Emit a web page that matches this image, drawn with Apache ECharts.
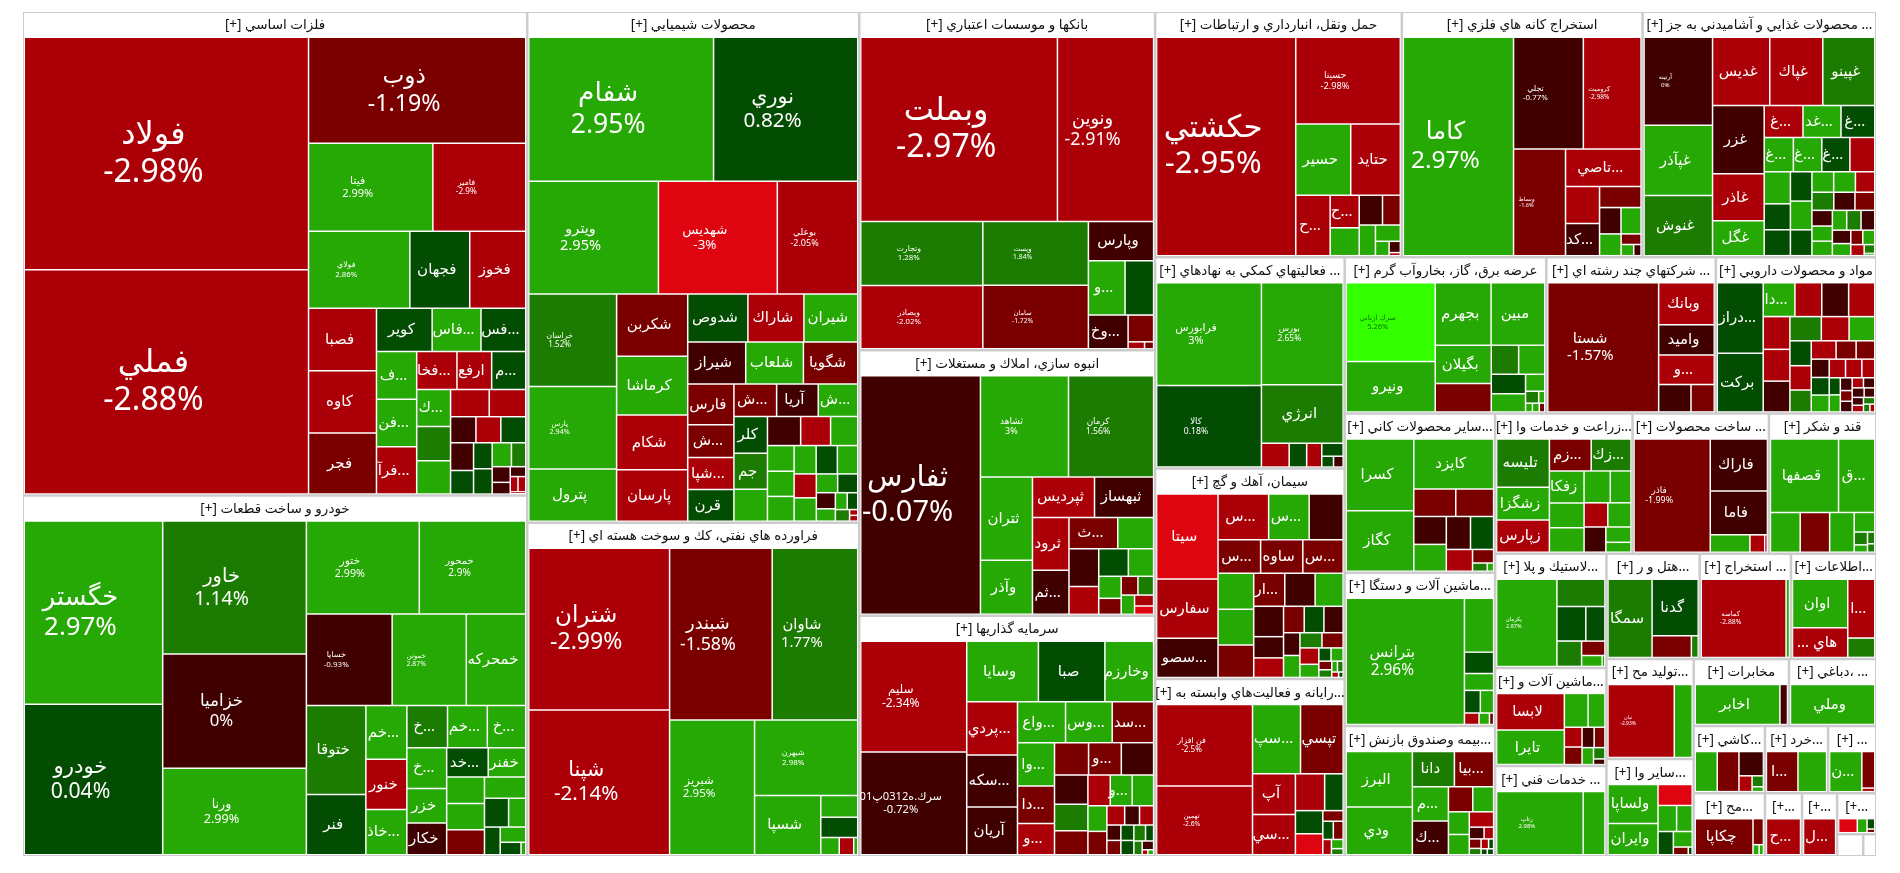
<!DOCTYPE html>
<html><head><meta charset="utf-8">
<style>html,body{margin:0;padding:0;background:#fff}#c{width:1900px;height:873px}</style>
<script src="https://cdn.jsdelivr.net/npm/echarts@6/dist/echarts.min.js"></script>
</head><body><div id="c"></div>
<script>
const sectorNames=['فلزات اساسي [+]','خودرو و ساخت قطعات [+]','محصولات شيميايي [+]','فراورده هاي نفتي، كك و سوخت هسته اي [+]','بانكها و موسسات اعتباري [+]','انبوه سازي، املاك و مستغلات [+]','سرمايه گذاريها [+]','حمل ونقل، انبارداري و ارتباطات [+]','استخراج كانه هاي فلزي [+]','... محصولات غذايي و آشاميدني به جز [+]','... فعاليتهاي كمكي به نهادهاي [+]','سيمان، آهك و گچ [+]','...رايانه و فعاليت‌هاي وابسته به [+]','عرضه برق، گاز، بخاروآب گرم [+]','... شركتهاي چند رشته اي [+]','مواد و محصولات دارويي [+]','...ساير محصولات كاني [+]','...ماشين آلات و دستگا [+]','...بيمه وصندوق بازنش [+]','...زراعت و خدمات وا [+]','... ساخت محصولات [+]','قند و شكر [+]','...لاستيك و پلا [+]','...ماشين آلات و [+]','... خدمات فني [+]','...هتل و ر [+]','... استخراج [+]','...اطلاعات [+]','...توليد مح [+]','...ساير وا [+]','مخابرات [+]','... ،دباغي [+]','...كاشي [+]','...مح [+]','...خرد [+]','... [+]','...+]','...+]','...+]','',''];
const sectorSizes=[242949,181080,168810,110223,99710,78175,70800,60270,58800,57085,39879,39690,33453,31356,26364,24960,23850,22950,19500,19180,19040,14980,12654,10878,9990,9765,9555,8925,8700,8439,6365,5829,4757,4473,4221,3216,2331,2205,1599,572,286];
const namesWithPercent=['فولاد','فملي','ذوب','فيتا','فامير','فولاي','خگستر','خودرو','خاور','خزاميا','ورنا','ختور','خمحور','خسايا','خموتن','شفام','نوري','ويترو','شهديس','بوعلي','خراسان','پارس','شتران','شپنا','شبندر','شاوان','شبريز','شبهرن','وبملت','ونوين','وتجارت','وبصادر','وپست','سامان','ثفارس','ثشاهد','كرمان','سليم','سرك.ه0312پ01','حكشتي','حسينا','كاما','تجلي','كروميت','وبساط','آرتينه','فرابورس','كالا','بورس','فن افزار','تهمين','سرك ازناني','شستا','بترانس','فاذر','پكرمان','رتاپ','كماسه','نيان'];

const n1=['فولاد','فملي','ذوب','فيتا','فامير','فولاي','فجهان','فخوز','فصبا','كاوه','فجر','كوير','فاس...','فس...','ف...','فن...','فرآ...','فخا...','ارفع','م...','ك...'];
const v1=[5600,5400,1952,925,691,660,390,365,360,358,352,204,179,164,163,162,161,130,112,110,106,98,96,89,84,56,55,55,54,46,41,40,39,29,24,18,13,10,10,3];
const c1=[-2.98,-2.88,-1.19,2.99,-2.9,2.86,.5,-2.5,-2.7,-2.8,-1.5,.6,2.9,.5,2.9,2.9,-2.5,-2.5,-2.5,.5,2.9,1.5,2.9,-2.5,-2.5,-.5,.5,-2.5,-.5,.5,.5,.5,2.9,1.5,-.5,-.5,-.5,-2.5,-2.5,-2.5];
const n2=['خگستر','خودرو','خاور','خزاميا','ورنا','ختور','خمحور','خسايا','خموتن','خمحركه','ختوقا','فنر','خم...','خنور','خاذ...','خ...','خم...','خ...','خ...','خزر','خكار','خد...','خفنر'];
const v2=[2150,1766,1619,1392,1053,889,838,665,575,461,449,304,187,175,157,146,143,138,137,117,107,103,93,85,84,80,74,59,42,37,33,22,5];
const c2=[2.97,.04,1.14,0,2.99,2.99,2.9,-.93,2.87,2.9,1.5,.5,2.9,-2.9,2.9,1.5,2.9,2.9,2.9,2.9,-.5,.5,2.9,2.9,2.9,-1.5,2.9,.5,2.9,.5,2.9,.5,2.9];
const n3=['شفام','نوري','ويترو','شهديس','بوعلي','خراسان','پارس','پترول','شكربن','كرماشا','شكام','پارسان','شدوص','شاراك','شيران','شيراز','شلعاب','شگويا','فارس','ش...','شپا...','قرن','ش...','آريا','ش...','كلر','جم'];
const v3=[2260,1763,1240,1137,769,690,615,388,375,355,330,310,245,228,219,206,205,193,160,128,126,124,118,115,109,105,102,91,82,74,67,58,57,56,53,51,49,45,44,34,32,26,20,17,15,14,4,4];
const c3=[2.95,.82,2.95,-3,-2.05,1.52,2.94,2.9,-1.5,2.9,-2.5,-2.5,.5,-2.5,2.9,-.5,2.9,-1.5,-1.5,-1.5,-2.5,.5,-1.5,-.5,2.9,.5,1.5,2.9,-.5,-2.5,2.9,2.9,2.9,2.9,2.9,.5,2.9,-2.5,2.9,2.9,.5,-.5,2.9,2.9,.5,1.5,-2.5,-2.5];
const n4=['شتران','شپنا','شبندر','شاوان','شبريز','شبهرن','شسپا'];
const v4=[1644,1469,1270,1059,826,562,283,58,54,23,18,5];
const c4=[-2.99,-2.14,-1.58,1.77,2.95,2.98,2.9,2.9,.5,2.9,-2.5,2.9];
const n5=['وبملت','ونوين','وتجارت','وبصادر','وپست','سامان','وپارس','و...','','وخ...'];
const v5=[3133,1532,675,670,582,581,222,172,134,116,59,10,5.5];
const c5=[-2.97,-2.91,1.28,-2.02,1.84,-1.72,-.5,2.9,.5,-.5,-1.5,-2.5,-1.5];
const n6=['ثفارس','ثشاهد','كرمان','ثتران','وآذر','ثپرديس','ثبهساز','ثرود','ثم...','ث...','','','و...','ثا...'];
const v6=[27956,8722,8428,4250,2750,2457,2340,1890,1575,1496,1100,1100,810,800,682,484,352,308,288,252,204,156];
const c6=[-.07,3,1.56,2.9,2.9,-2.5,-.5,-2.5,-.5,-1.5,-.5,2.9,-2.5,.5,2.9,2.9,-1.5,-1.5,1.5,2.9,-2.5,-3];
const n7=['سليم','سرك.ه0312پ01','وسايا','صبا','وخارزم','پردي...','سكه...','آريان','واع...','وس...','سد...','وا...','دا...','و...','','و...','','','','','','و...'];
const v7=[819,761,303,281,206,188,185,169,137,133,118,112,97,81,77,74,73,68,62,56,48,47,46,34,31,24,20,19,15,14,14,13,13,9,8,7,2,2];
const c7=[-2.34,-.72,2.9,.5,2.9,-2.5,-.5,-.7,2.9,2.9,-1.5,2.9,-1.5,-2.5,-1.5,-1.5,-.5,-.5,1.5,-1.5,-2.5,2.9,2.9,2.9,-1.5,-2.5,-.5,-2.5,-.5,.5,-1.5,1.5,.5,.5,1.5,-.5,2.9,-2.5];
const n8=['حكشتي','حسينا','حسير','حتايد','ح...','ح...','ح...'];
const v8=[2627,785,338,305,180,82,70,60,46,43,35,17,11,3];
const c8=[-2.95,-2.98,2.9,-2.5,-2.5,-2.5,2.9,-.5,-1.5,2.9,2.9,2.9,-.5,-2.5];
const n9=['كاما','تجلي','كروميت','وبساط','تاصي...','','كد...'];
const v9=[2051,665,550,472,240,108,93,75,48,45,40,18,12,7];
const c9=[2.97,-.77,-2.98,-1.6,-2.5,-2.5,-.5,-1.5,-.5,2.9,2.9,-1.5,2.9,-.5];
const n10=['آرتينه','غپآذر','غنوش','غديس','غپاك','غپينو','غزر','غاذر','غگل','غ...','غد...','غ...','غ...','غ...','غ...'];
const v10=[488,388,334,316,293,287,285,196,146,100,98,87,81,79,78,69,68,55,55,51,50,45,36,36,32,32,31,29,26,25,24,23,23,22,20,18,14,14,12,7.5,2];
const c10=[0,2.9,1.5,-2.5,-2.5,1.5,-.5,-2.5,2.9,-2.5,2.9,.5,2.9,2.9,.5,-2.5,2.9,.5,.5,.5,2.9,.5,2.9,2.9,1.5,-2.5,-.5,-1.5,-.5,2.9,2.9,1.5,2.9,-.5,-.5,2.9,2.9,-1.5,-2.5,1.5,2.9];
const n11=['فرابورس','كالا','بورس','انرژي'];
const v11=[930,737,720,412,57,36,31,24,11,9];
const c11=[3,.18,2.65,1.5,-2.5,.5,-2.5,.5,.5,-.5];
const n12=['سيتا','سفارس','سصو...','س...','س...','','س...','ساوه','س...','','','','ار...'];
const v12=[420,294,194,186,149,125,115,114,109,104,103,93,83,81,75,73,51,47,44,42,41,30,29,27,26,25,20,13,13,9,8,5,5,3,2];
const c12=[-3,-2.5,-.5,-2.5,2.9,-.5,-1.5,-1.5,-1.5,2.9,2.9,-1.5,-1.5,-.5,2.9,-.5,-.5,-2.5,-1.5,.5,-.5,-.5,2.9,1.5,-1.5,-2.5,2.9,2.9,.5,-1.5,1.5,1.5,2.9,-2.5,.5];
const n13=['فن افزار','تهمين','سپ...','تپسي','آپ','سي...'];
const v13=[654,550,278,247,146,144,90,57,53,48,18,16,15,11,9,6];
const c13=[-2.5,-2.6,2.9,-1.5,-2.5,-2.5,-2.5,.5,.5,-3,-1.5,.5,-1.5,-2.5,2.9,1.5];
const n14=['سرك ازناني','ونيرو','بجهرم','مبين','بگيلان'];
const v14=[582,372,289,278,178,132,66,63,55,52,27,13,6,5,5,4];
const c14=[5.26,2.9,2.9,2.9,2.9,-1.5,1.5,2.9,.5,2.9,2.9,1.5,2.9,2.9,2.9,-1.5];
const n15=['شستا','وبانك','واميد','و...','و...'];
const v15=[1212,198,142,139,75,54];
const c15=[-1.57,-2.5,-.5,-2.5,-.5,-1.5];
const n16=['دراز...','بركت','دا...'];
const v16=[256,213,85,72,72,70,69,67,65,60,53,49,42,41,37,36,29,27,26,25,24,24,24,19,15,15,12,10,10,9,9,9,8,7,6,6,4,3];
const c16=[.5,.5,2.9,-.5,-2.5,-2.5,-2.5,-2.5,-.5,1.5,-2.5,2.9,.5,-2.5,1.5,-2.5,-1.5,-1.5,-.5,.5,-2.5,-2.5,2.9,-2.5,2.9,.5,-.5,-.5,-1.5,-.5,-.5,-2.5,-.5,-.5,1.5,-2.5,1.5,-2.5];
const n17=['كسرا','كگاز','كايزد'];
const v17=[4480,3776,3680,1066,962,837,806,736,704,528,264,112,48];
const c17=[2.9,2.9,2.9,-1.5,-1.5,-.5,2.9,-.7,.5,-2.5,-1.5,1.5,2.9];
const n18=['بترانس'];
const v18=[1244,131,52,41,30,25,14,10,4];
const c18=[2.96,2.9,.5,2.9,.5,2.9,-2.5,2.9,-1.5];
const n19=['البرز','ودي','دانا','بيا...','م...','ك...'];
const v19=[295,254,119,111,99,98,49,42,38,34,30,14,9,9,6,6,4,3,3];
const c19=[2.9,2.9,1.5,-1.5,2.9,-.5,-1.5,2.9,2.9,2.9,-2.5,-.5,-1.5,-2.5,-2.5,1.5,.5,.5,.5];
const n20=['تليسه','زشگزا','زپارس','زم...','زك...','زفكا','ز...'];
const v20=[204,139,136,107,102,89,69,68,67,53,46,45,44,31,20];
const c20=[1.5,2.9,-2.5,-1.5,1.5,2.9,2.9,2.9,2.9,2.9,-2.5,2.9,-.5,2.9,2.9];
const n21=['فاذر','فاراك','فاما'];
const v21=[740,255,215,59,22,4];
const c21=[-1.99,-.5,-.5,2.9,-2.5,-2.5];
const n22=['قصفها','ق...'];
const v22=[410,218,97,96,80,33,14,8,7,5];
const c22=[2.9,2.9,2.9,-1.5,2.9,2.9,1.5,2.9,1.5,1.5];
const n23=['پكرمان'];
const v23=[421,105,80,53,50,27,18,2.4];
const c23=[2.87,1.5,.5,.5,1.5,-1.5,2.9,2.9];
const n24=['لابسا','تايرا'];
const v24=[191,181,62,44,27,24,19,17,15,10,5];
const c24=[-2.5,2.9,2.9,2.9,-2.5,-1.5,-.5,-1.5,2.9,1.5,-.5];
const n25=['رتاپ'];
const v25=[450,113];
const c25=[2.98,2.9];
const n26=['سمگا','گدنا'];
const v26=[280,212,69,12];
const c26=[1.5,.5,-1.5,1.5];
const n27=['كماسه'];
const v27=[549,22];
const c27=[-2.88,2.9];
const n28=['اوان','... هاي','ا...'];
const v28=[216,132,128,42];
const c28=[2.9,-2.5,-2.5,1.5];
const n29=['نيان'];
const v29=[407,110];
const c29=[-2.93,2.9];
const n30=['ولساپا','وايران'];
const v30=[153,123,56,38,32,28,23,9,2.4];
const c30=[2.9,2.9,-3,2.9,2.9,.5,2.9,-1.5,.5];
const n31=['اخابر'];
const v31=[269,24];
const c31=[2.9,-.5];
const n32=['وملي'];
const v32=[273];
const c32=[2.9];
const n33=[];
const v33=[64,63,43,15,9,4];
const c33=[2.9,-1.5,-.5,-2.5,1.5,2.9];
const n34=['چكاپا'];
const v34=[169,22,5,3.5];
const c34=[-1.5,-1.5,2.9,2.9];
const n35=['ا...'];
const v35=[87,79];
const c35=[-1.5,2.9];
const n36=['ن...'];
const v36=[85,31,3];
const c36=[2.9,-2,-2.5];
const n37=['ح...'];
const v37=[113];
const c37=[-2.5];
const n38=['ل...'];
const v38=[106];
const c38=[-2.5];
const n39=[];
const v39=[23,12,7,2.5];
const c39=[-3,2.9,.5,-1.5];
const allNames=[n1,n2,n3,n4,n5,n6,n7,n8,n9,n10,n11,n12,n13,n14,n15,n16,n17,n18,n19,n20,n21,n22,n23,n24,n25,n26,n27,n28,n29,n30,n31,n32,n33,n34,n35,n36,n37,n38,n39];
const allValues=[v1,v2,v3,v4,v5,v6,v7,v8,v9,v10,v11,v12,v13,v14,v15,v16,v17,v18,v19,v20,v21,v22,v23,v24,v25,v26,v27,v28,v29,v30,v31,v32,v33,v34,v35,v36,v37,v38,v39];
const allChanges=[c1,c2,c3,c4,c5,c6,c7,c8,c9,c10,c11,c12,c13,c14,c15,c16,c17,c18,c19,c20,c21,c22,c23,c24,c25,c26,c27,c28,c29,c30,c31,c32,c33,c34,c35,c36,c37,c38,c39];

function colorOf(p){
  if(p>=4)return '#33ff00';
  if(p>=2)return '#26a805';
  if(p>=1.1)return '#1c7c02';
  if(p>0)return '#034d03';
  if(p>-1)return '#400000';
  if(p>=-2)return '#7a0000';
  if(p>-3)return '#ac0008';
  return '#de0410';
}
const data=sectorNames.map((title,s)=>{
  const vals=allValues[s];
  if(!vals)return {name:'',value:sectorSizes[s],itemStyle:{color:'#fff'},label:{show:false}};
  const sum=vals.reduce((a,b)=>a+b,0);
  const size=sectorSizes[s];
  const content=size-25*Math.sqrt(size);
  return {
    name:'\u200F'+title+'\u200F',
    value:size,
    children:vals.map((v,i)=>{
      const nm=(allNames[s][i]||'');
      const area=v/sum*content;
      const pct=allChanges[s][i];
      const withPct=namesWithPercent.includes(nm);
      const fs=withPct?Math.max(5,Math.min(32,area/1000)):15;
      return {
        name:nm,value:v,
        itemStyle:{color:colorOf(pct)},
        label:{
          show:nm!=='',
          formatter:withPct?nm+'\n'+pct+'%':nm,
          fontSize:fs,lineHeight:fs*1.18,
          color:pct>=4?'#0a7a00':'#fff',
          offset:withPct?[-13,0]:[-3,0]
        }
      };
    })
  };
});
const FONT='"Noto Sans","DejaVu Sans",sans-serif';
const chart=echarts.init(document.getElementById('c'),null,{renderer:'canvas'});
chart.setOption({
  animation:false,
  tooltip:{show:false},
  series:[{
    type:'treemap',
    left:23,top:12,width:1853,height:844,
    roam:false,nodeClick:false,silent:true,
    breadcrumb:{show:false},
    visibleMin:0,
    sort:'desc',
    squareRatio:1,
    label:{show:true,position:'inside',align:'center',verticalAlign:'middle',overflow:'none',fontFamily:FONT},
    itemStyle:{borderWidth:0,gapWidth:0},
    levels:[
      {upperLabel:{show:false},itemStyle:{borderColor:'#ccc',borderWidth:1,gapWidth:2.5}},
      {upperLabel:{show:true,height:25,position:'inside',align:'center',verticalAlign:'middle',color:'#111',fontSize:13.5,overflow:'none',fontFamily:FONT},itemStyle:{borderColor:'#fff',borderWidth:1,gapWidth:1.5}},
      {itemStyle:{borderWidth:0,gapWidth:0}}
    ],
    data
  }]
});
</script></body></html>
